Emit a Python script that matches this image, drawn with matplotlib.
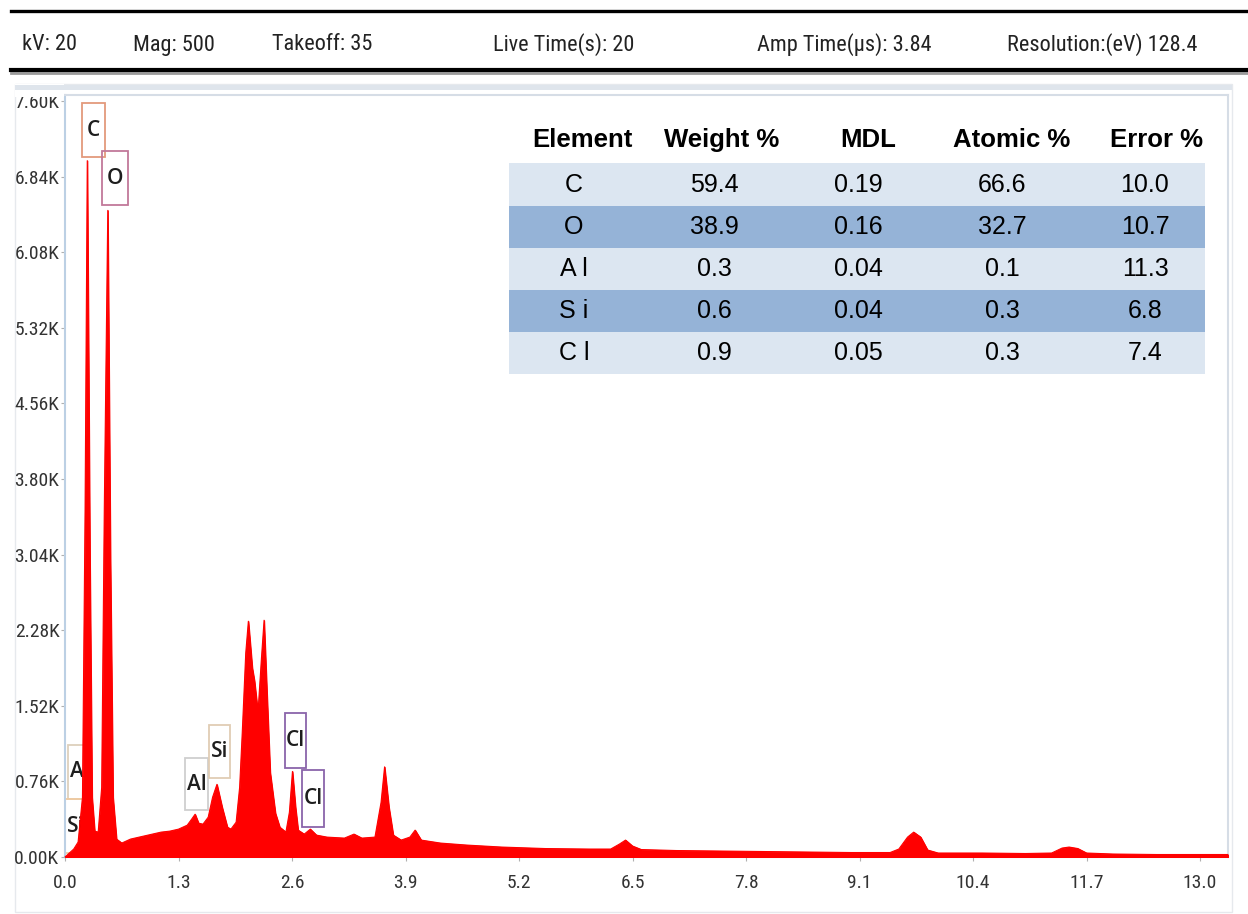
import numpy as np
import matplotlib
matplotlib.use("Agg")
import matplotlib.pyplot as plt
import matplotlib.font_manager as fm
from matplotlib.patches import Rectangle
from matplotlib.lines import Line2D

# EDS spectrum traced as (energy keV, counts)
energy = [0.00, 0.05, 0.10, 0.15, 0.20, 0.23, 0.255, 0.285, 0.31, 0.34,
          0.38, 0.42, 0.45, 0.49, 0.52, 0.55, 0.59, 0.65, 0.75, 0.90,
          1.00, 1.10, 1.20, 1.30, 1.40, 1.45, 1.49, 1.53, 1.58, 1.64,
          1.69, 1.74, 1.80, 1.86, 1.90, 1.96, 2.00, 2.03, 2.07, 2.10,
          2.145, 2.17, 2.21, 2.25, 2.28, 2.31, 2.35, 2.41, 2.46, 2.53,
          2.57, 2.605, 2.64, 2.67, 2.74, 2.81, 2.88, 3.00, 3.20, 3.31,
          3.40, 3.55, 3.62, 3.66, 3.71, 3.76, 3.85, 3.95, 4.01, 4.08,
          4.30, 4.60, 5.00, 5.50, 6.00, 6.25, 6.35, 6.42, 6.50, 6.60,
          7.00, 7.50, 8.00, 8.50, 9.00, 9.45, 9.55, 9.65, 9.72, 9.80,
          9.88, 10.00, 10.50, 11.00, 11.30, 11.42, 11.50, 11.60, 11.70, 12.00,
          12.50, 13.00, 13.32]
counts = [0, 40, 80, 150, 600, 3500, 7000, 3000, 600, 260,
          250, 700, 3500, 6500, 3000, 600, 180, 140, 180, 210,
          230, 250, 260, 280, 320, 380, 430, 340, 330, 400,
          600, 730, 500, 300, 280, 350, 700, 1250, 2050, 2370,
          1900, 1770, 1450, 2000, 2380, 1710, 850, 440, 300, 250,
          450, 860, 500, 270, 230, 280, 220, 200, 190, 230,
          190, 200, 550, 906, 500, 220, 170, 200, 270, 170,
          140, 120, 100, 85, 80, 80, 130, 170, 110, 75,
          65, 60, 55, 50, 45, 45, 80, 200, 250, 200,
          70, 40, 40, 35, 40, 90, 100, 85, 40, 30,
          25, 25, 25]

# element markers: label, box x-range (keV), box y-range (counts), edge colour
marker_labels = ["C", "O", "Al", "Si", "Al", "Si", "Cl", "Cl"]
marker_x = [(0.195, 0.458), (0.424, 0.722), (0.034, 0.298), (0.0, 0.24),
            (1.375, 1.638), (1.65, 1.89), (2.52, 2.76), (2.715, 2.967)]
marker_y = [(7035, 7578), (6553, 7095), (583, 1126), (40, 583),
            (472, 995), (794, 1327), (894, 1447), (301, 874)]
marker_colors = ["#e39a7c", "#c2789a", "#ddd0bc", "#efc9a0",
                 "#cfcfcf", "#e0cdb4", "#8a64aa", "#8a64aa"]

# quantification table
table_header = ["Element", "Weight %", "MDL", "Atomic %", "Error %"]
elements = ["C", "O", "A l", "S i", "C l"]
weight_pct = ["59.4", "38.9", "0.3", "0.6", "0.9"]
mdl = ["0.19", "0.16", "0.04", "0.04", "0.05"]
atomic_pct = ["66.6", "32.7", "0.1", "0.3", "0.3"]
error_pct = ["10.0", "10.7", "11.3", "6.8", "7.4"]

header_items = ["kV: 20", "Mag: 500", "Takeoff: 35", "Live Time(s): 20",
                "Amp Time(\u00b5s): 3.84", "Resolution:(eV) 128.4"]


def narrow_font():
    # look for a condensed regular face; the instrument software uses a narrow sans
    skip = ("Bold", "Italic", "Oblique", "Light", "Thin", "Black", "Medium",
            "SemiBold", "Semibold", "ExtraBold", "Heavy")
    files = [f.fname for f in fm.fontManager.ttflist]
    for key in ("LiberationSansNarrow-Regular", "NotoSans-ExtraCondensed.",
                "NotoSans-ExtraCondensed-Regular", "RobotoCondensed-Regular",
                "NotoSans-Condensed.", "NotoSans-Condensed-Regular",
                "DejaVuSansCondensed."):
        for fn in files:
            if key in fn:
                return fm.FontProperties(fname=fn)
    for fn in files:
        base = fn.rsplit("/", 1)[-1]
        if ("Condensed" in base or "Narrow" in base) and not any(s in base for s in skip):
            return fm.FontProperties(fname=fn)
    return None


nf = narrow_font()


def narrow(size, **kw):
    if nf is None:
        return dict(family="DejaVu Sans", fontsize=size * 0.75, **kw)
    return dict(fontproperties=nf.copy(), fontsize=size, **kw)


W, H = 1248, 914
fig = plt.figure(figsize=(W / 100, H / 100), dpi=100)


def fx(px):
    return px / W


def fy(py):
    return 1 - py / H


# ---- header strip ----
fig.add_artist(Line2D([fx(11), 1], [fy(11), fy(11)], color="black", lw=2.4))
fig.add_artist(Line2D([fx(11), 1], [fy(73), fy(73)], color="#9a9a9a", lw=2.0))
fig.add_artist(Line2D([fx(11), 1], [fy(70), fy(70)], color="black", lw=3.0))
header_x = [22, 133, 272, 493, 757, 1007]
for hx, txt in zip(header_x, header_items):
    t = fig.text(fx(hx), fy(45), txt, ha="left", va="center", color="#222222")
    t.update(narrow(16))

# ---- plot panel ----
fig.add_artist(Rectangle((fx(15), fy(912)), fx(1232) - fx(15), fy(84) - fy(912),
                         transform=fig.transFigure, facecolor="none",
                         edgecolor="#e6e9ed", lw=1.0, zorder=0))

ax = fig.add_axes([fx(65), fy(857), fx(1228) - fx(65), fy(95) - fy(857)])
ax.set_xlim(0, 13.32)
ax.set_ylim(0, 7660)

ax.fill_between(energy, counts, 0, color="#ff0000", lw=0.8, zorder=3)
ax.plot(energy, counts, color="#ff0000", lw=0.8, zorder=3)

for lab, (x0, x1), (y0, y1), c in zip(marker_labels, marker_x, marker_y, marker_colors):
    ax.add_patch(Rectangle((x0, y0), x1 - x0, y1 - y0, facecolor="none",
                           edgecolor=c, lw=1.3, zorder=2))
    ax.text((x0 + x1) / 2, (y0 + y1) / 2, lab, ha="center", va="center",
            fontsize=15, fontweight="semibold", color="#1e1e1e",
            family="Open Sans", zorder=2)

xticks = np.round(np.arange(0, 13.01, 1.3), 1)
ax.set_xticks(xticks)
ax.set_xticklabels([f"{v:.1f}" for v in xticks])
yticks = np.arange(0, 7601, 760)
ax.set_yticks(yticks)
ax.set_yticklabels([f"{v / 1000:.2f}K" for v in yticks])
for t in ax.get_xticklabels():
    t.update(narrow(14, color="#333333"))
for t in ax.get_yticklabels():
    t.update(narrow(14, color="#333333"))
ax.tick_params(axis="both", length=3, width=0.8, color="#b0b0b0", pad=1)
ax.tick_params(axis="x", pad=9)

for side in ["top", "right"]:
    ax.spines[side].set_color("#d6dde6")
    ax.spines[side].set_linewidth(1.5)
ax.spines["left"].set_color("#bcd0e4")
ax.spines["left"].set_linewidth(1.5)
ax.spines["bottom"].set_color("#a8a8b8")
ax.spines["bottom"].set_linewidth(1.5)

# gray bar on top of the panel hides the upper half of the top tick label
fig.add_artist(Rectangle((fx(15), fy(97)), fx(64) - fx(15), fy(84) - fy(97),
                         transform=fig.transFigure, facecolor="white",
                         edgecolor="none", zorder=5))
fig.add_artist(Rectangle((fx(15), fy(90)), fx(1232) - fx(15), fy(85) - fy(90),
                         transform=fig.transFigure, facecolor="#dfe5ec",
                         edgecolor="none", zorder=6))

# ---- quantification table ----
row_edges = [163, 206, 248, 290, 332, 374]
col_centers = [582, 722, 868, 1012, 1156]
val_centers = [574, 714, 858, 1002, 1145]
band_colors = ["#dce6f1", "#95b3d7"]
for i in range(len(elements)):
    top, bot = row_edges[i], row_edges[i + 1]
    fig.add_artist(Rectangle((fx(509), fy(bot)), fx(1205) - fx(509), fy(top) - fy(bot),
                             transform=fig.transFigure, facecolor=band_colors[i % 2],
                             edgecolor="none", zorder=4))
    cells = [elements[i], weight_pct[i], mdl[i], atomic_pct[i], error_pct[i]]
    for cx, val in zip(val_centers, cells):
        fig.text(fx(cx), fy((top + bot) / 2), val, ha="center", va="center",
                 family="Liberation Sans", fontsize=18, color="black", zorder=5)
for cx, head in zip(col_centers, table_header):
    fig.text(fx(cx), fy(140), head, ha="center", va="center",
             family="Liberation Sans", fontsize=18.5, fontweight="bold",
             color="black", zorder=5)

fig.savefig("out.png", dpi=100)
